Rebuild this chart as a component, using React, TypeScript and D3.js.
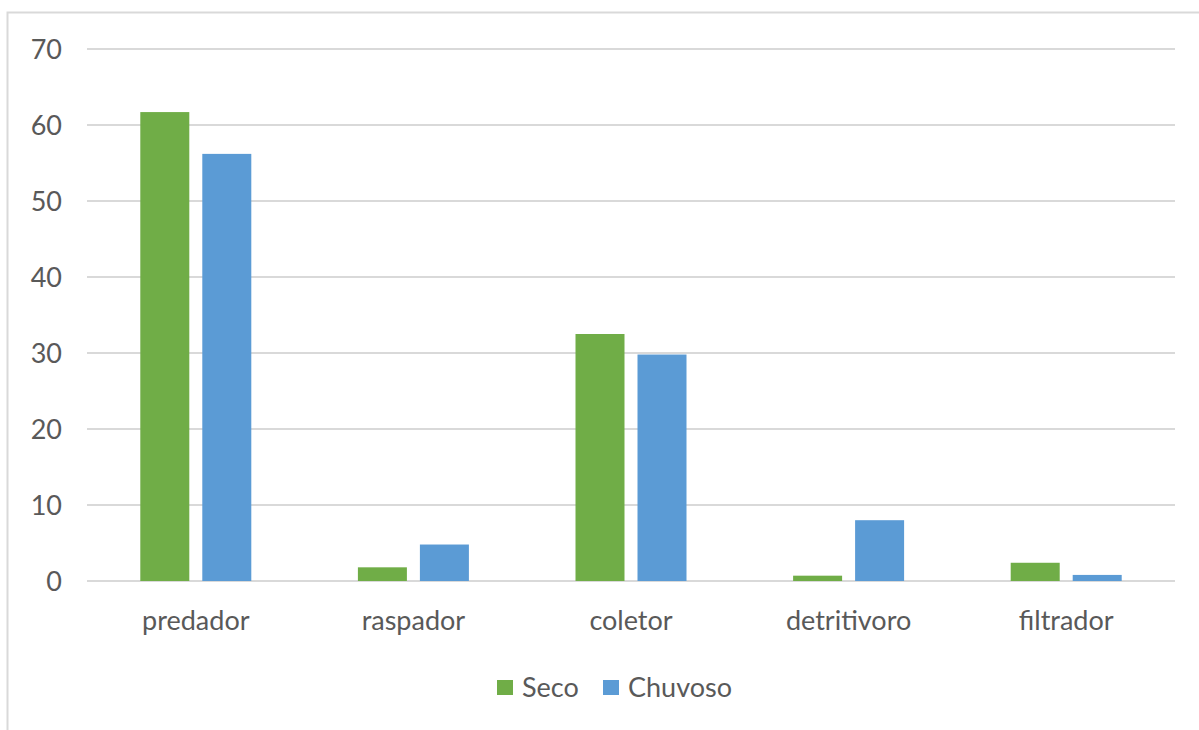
import React from "react";
import * as d3 from "d3";

const categories = ["predador", "raspador", "coletor", "detritivoro", "filtrador"];
const seriesNames = ["Seco", "Chuvoso"];
const seco = [61.7, 1.8, 32.5, 0.7, 2.4];
const chuvoso = [56.2, 4.8, 29.8, 8.0, 0.8];
const yTicks = [0, 10, 20, 30, 40, 50, 60, 70];
const colors = ["#70AD47", "#5B9BD5"];

export default function App() {
  const W = 1199, H = 730;
  const left = 87, right = 1175, top = 49, bottom = 581;
  const x = d3.scaleBand<string>().domain(categories).range([left, right]).paddingInner(0).paddingOuter(0);
  const y = d3.scaleLinear().domain([0, 70]).range([bottom, top]);
  const barW = 49, gap = 13;
  const font = "Lato, 'Open Sans', sans-serif";
  const series = [seco, chuvoso];
  return (
    <svg width={W} height={H} style={{ position: "absolute", left: 0, top: 0 }} fontFamily={font}>
      <rect x={0} y={0} width={W} height={H} fill="#fff" />
      <path d={`M7.5,${H} V12.5 H${W}`} fill="none" stroke="#d9d9d9" strokeWidth={2} />
      {yTicks.map((t) => (
        <g key={t}>
          <line x1={left} x2={right} y1={y(t)} y2={y(t)} stroke="#d9d9d9" strokeWidth={2} />
          <text x={62} y={y(t) + 10} textAnchor="end" fontSize={27} fill="#595959">{t}</text>
        </g>
      ))}
      {categories.map((c, i) => {
        const cx = (x(c) as number) + x.bandwidth() / 2;
        return (
          <g key={c}>
            {series.map((s, j) => {
              const bx = j === 0 ? cx - gap / 2 - barW : cx + gap / 2;
              return <rect key={j} x={bx} y={y(s[i])} width={barW} height={y(0) - y(s[i])} fill={colors[j]} />;
            })}
            <text x={cx} y={630} textAnchor="middle" fontSize={27} fill="#595959">{c}</text>
          </g>
        );
      })}
      <g>
        <rect x={497} y={680} width={16} height={15} fill={colors[0]} />
        <text x={522} y={697} fontSize={27} fill="#595959">{seriesNames[0]}</text>
        <rect x={603} y={680} width={16} height={15} fill={colors[1]} />
        <text x={628} y={697} fontSize={27} fill="#595959">{seriesNames[1]}</text>
      </g>
    </svg>
  );
}
